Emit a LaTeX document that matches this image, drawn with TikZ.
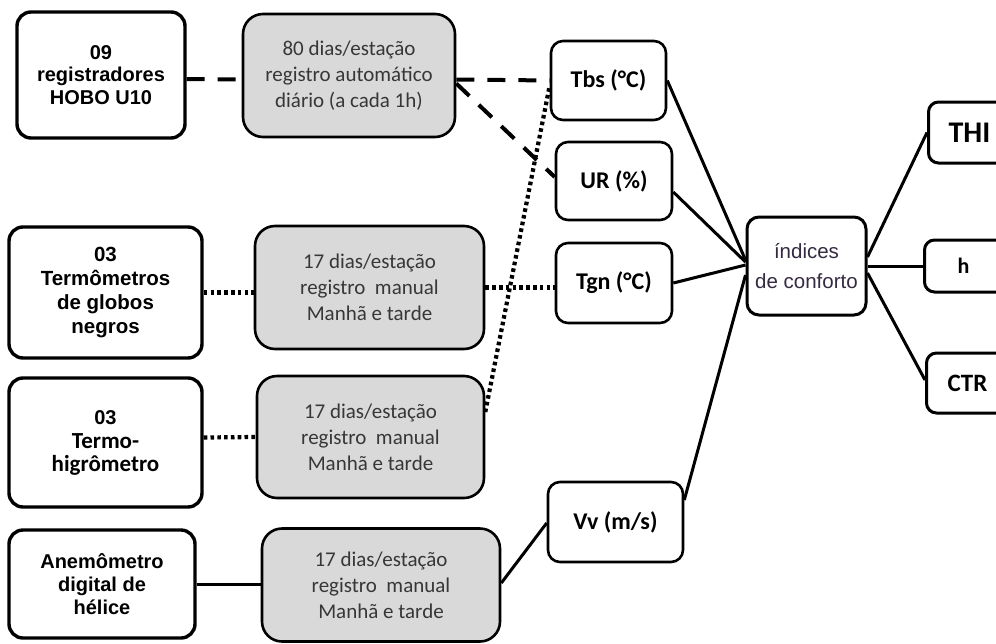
\documentclass[tikz,border=0pt]{standalone}
\usepackage{fontspec}
\setmainfont{Liberation Sans}
\newfontfamily\calfont{Carlito}
\usetikzlibrary{calc}
\definecolor{grayfill}{RGB}{217,217,217}
\definecolor{graytext}{RGB}{55,55,55}
\definecolor{ictext}{RGB}{52,42,66}
\begin{document}
\begin{tikzpicture}[x=1pt,y=-1pt,
  srcbox/.style={draw, line width=3.4pt, rounded corners=14pt, align=center, inner sep=0pt, fill=white,
                 font=\fontsize{20}{22.5}\selectfont\bfseries},
  regbox/.style={draw, line width=2.6pt, rounded corners=20pt, align=center, inner sep=0pt, fill=grayfill,
                 text=graytext, font=\calfont\fontsize{21}{26}\selectfont},
  varbox/.style={draw, line width=2.6pt, rounded corners=12pt, align=center, inner sep=0pt, fill=white,
                 font=\calfont\bfseries\fontsize{24}{28}\selectfont},
  idxbox/.style={draw, line width=3pt, rounded corners=10pt, align=center, inner sep=0pt, fill=white,
                 font=\calfont\bfseries\fontsize{25}{28}\selectfont},
  dashline/.style={line width=4pt, dash pattern=on 18pt off 13pt},
  dotline/.style={line width=4.2pt, dash pattern=on 3.6pt off 3.2pt},
  solidline/.style={line width=3pt},
]
\clip (0,0) rectangle (996,643);
\fill[white] (0,0) rectangle (996,643);

% left sources
\node[srcbox, minimum width=168pt, minimum height=126pt] (A) at (101,75) {09\\registradores\\HOBO U10};
\node[srcbox, minimum width=193pt, minimum height=131pt, font=\fontsize{20.5}{24}\selectfont\bfseries] (C) at (105.5,292.5) {03\\Termômetros\\de globos\\negros};
\node[srcbox, minimum width=193pt, minimum height=129pt] (E) at (105.5,442.5) {03\\[2pt]{\calfont\fontsize{23}{23}\selectfont\bfseries Termo-}\\{\calfont\fontsize{23}{23}\selectfont\bfseries higrômetro}};
\node[srcbox, minimum width=186pt, minimum height=108pt, font=\fontsize{20}{23}\selectfont\bfseries] (G) at (102,584) {Anemômetro\\digital de\\hélice};

% gray registration boxes
\node[regbox, minimum width=212pt, minimum height=123pt] (B) at (349,75.5) {80 dias/estação\\registro automático\\diário (a cada 1h)};
\node[regbox, minimum width=229pt, minimum height=123pt] (D) at (369.5,287.5) {17 dias/estação\\registro\ \ manual\\Manhã e tarde};
\node[regbox, minimum width=227pt, minimum height=122pt] (F) at (370.5,437) {17 dias/estação\\registro\ \ manual\\Manhã e tarde};
\node[regbox, minimum width=238pt, minimum height=113pt] (H) at (381,585) {17 dias/estação\\registro\ \ manual\\Manhã e tarde};

% variables
\node[varbox, minimum width=115pt, minimum height=79pt] (Tbs) at (608.5,80.5) {Tbs (°C)};
\node[varbox, minimum width=116pt, minimum height=78pt] (UR) at (614,181) {UR (\%)};
\node[varbox, minimum width=116pt, minimum height=80pt] (Tgn) at (614,283) {Tgn (°C)};
\node[varbox, minimum width=135pt, minimum height=80pt] (Vv) at (615.5,522) {Vv (m/s)};

% comfort indices
\node[draw, line width=3pt, rounded corners=12pt, align=center, inner sep=0pt, fill=white, text=ictext,
      minimum width=119pt, minimum height=98pt, font=\fontsize{20.5}{30}\selectfont] (IC) at (806.5,266) {índices\\de conforto};

\node[idxbox, minimum width=90pt, minimum height=61pt, anchor=west, font=\calfont\bfseries\fontsize{30}{30}\selectfont] (THI) at (927,132.5) {\hspace*{-8pt}THI};
\node[idxbox, minimum width=90pt, minimum height=52pt, anchor=west, font=\calfont\bfseries\fontsize{22}{22}\selectfont] (hh) at (923,266) {\hspace*{-12pt}h};
\node[idxbox, minimum width=90pt, minimum height=60pt, anchor=west] (CTR) at (925,383) {\hspace*{-8pt}CTR};

% connectors
\draw[dashline] ([yshift=-4pt]A.east) -- ([yshift=-4pt]B.west);
\draw[dashline] ([yshift=-4pt]B.east) -- (Tbs.west);
\draw[dashline] ([yshift=-8pt]B.east) -- ([yshift=4pt]UR.west);

\draw[dotline] (C.east) -- (C.east -| D.west);
\draw[dotline] (D.east) -- (D.east -| Tgn.west);
\draw[dotline] ([yshift=5pt]E.east) -- (F.west);
\draw[dotline] ([yshift=25pt]F.east) -- ([yshift=-5pt]Tbs.west);

\draw[solidline] (G.east) -- (G.east -| H.west);
\draw[solidline] ([yshift=2pt]H.east) -- ([yshift=-1pt]Vv.west);

\draw[solidline] (Tbs.east) -- ([yshift=6pt]IC.west);
\draw[solidline] ([yshift=-11pt]UR.east) -- ([yshift=4pt]IC.west);
\draw[solidline] (Tgn.east) -- ([yshift=1pt]IC.west);
\draw[solidline] ([yshift=22pt]Vv.east) -- ([yshift=-9pt]IC.west);

\draw[solidline] ([yshift=9pt]IC.east) -- (THI.west);
\draw[solidline] (IC.east) -- (IC.east -| hh.west);
\draw[solidline] ([yshift=-7pt]IC.east) -- ([yshift=3pt]CTR.west);
\end{tikzpicture}
\end{document}
